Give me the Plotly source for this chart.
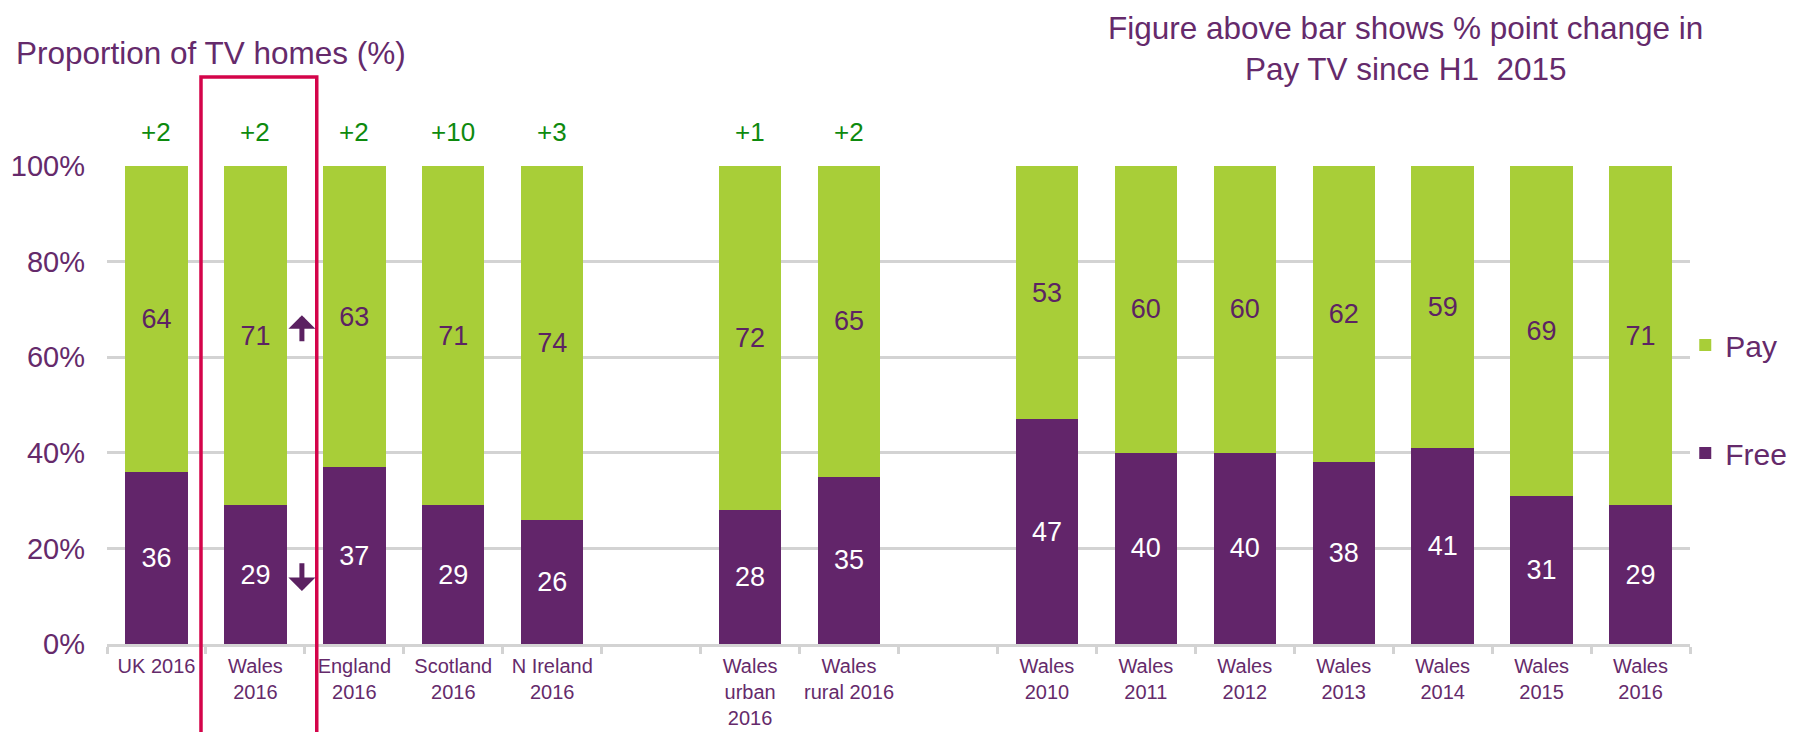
import plotly.graph_objects as go

# ---- data ----
labels = ["UK 2016", "Wales<br>2016", "England<br>2016", "Scotland<br>2016", "N Ireland<br>2016",
          "Wales<br>urban<br>2016", "Wales<br>rural 2016",
          "Wales<br>2010", "Wales<br>2011", "Wales<br>2012", "Wales<br>2013", "Wales<br>2014",
          "Wales<br>2015", "Wales<br>2016"]
free = [36, 29, 37, 29, 26, 28, 35, 47, 40, 40, 38, 41, 31, 29]
pay = [64, 71, 63, 71, 74, 72, 65, 53, 60, 60, 62, 59, 69, 71]
change = ["+2", "+2", "+2", "+10", "+3", "+1", "+2", None, None, None, None, None, None, None]
group_sizes = [5, 2, 7]
y_ticks = [0, 20, 40, 60, 80, 100]
y_ticktext = ["0%", "20%", "40%", "60%", "80%", "100%"]
highlight_index = 1  # Wales 2016 (highlighted)

# ---- layout helpers: slot positions with one empty slot between groups ----
positions = []
slot = 0
for g in group_sizes:
    for _ in range(g):
        positions.append(slot)
        slot += 1
    slot += 1
n_slots = slot - 1
boundaries = [i - 0.5 for i in range(n_slots + 1)]

PURPLE = "#62256A"
GREEN = "#A8CE38"
TEXT = "#652A6B"
CHG = "#0E8A0E"
GRID = "#D3D3D3"
FONT = "Liberation Sans, Arial, sans-serif"

fig = go.Figure()
fig.add_trace(go.Bar(
    x=positions, y=free, name="Free", marker=dict(color=PURPLE, line=dict(width=0)),
    text=free, textposition="inside", insidetextanchor="middle", textangle=0,
    constraintext="none", textfont=dict(color="white", size=27, family=FONT),
    legendgroup="free", legendrank=2, hoverinfo="skip"))
fig.add_trace(go.Bar(
    x=positions, y=pay, name="Pay", marker=dict(color=GREEN, line=dict(width=0)),
    text=pay, textposition="inside", insidetextanchor="middle", textangle=0,
    constraintext="none", textfont=dict(color="#5C2363", size=27, family=FONT),
    legendgroup="pay", legendrank=1, hoverinfo="skip"))

annotations = []
for p, c, f, pv in zip(positions, change, free, pay):
    if c is not None:
        annotations.append(dict(x=p, y=f + pv, xref="x", yref="y", text=c, showarrow=False,
                                yanchor="middle", yshift=34,
                                font=dict(color=CHG, size=26, family=FONT)))

hp = positions[highlight_index]
# up / down arrows beside highlighted bar
annotations.append(dict(x=hp + 0.47, y=68.8, ax=hp + 0.47, ay=63.0, xref="x", yref="y",
                        axref="x", ayref="y", text="", showarrow=True, arrowhead=1,
                        arrowsize=0.9, arrowwidth=5, arrowcolor="#5B2161"))
annotations.append(dict(x=hp + 0.47, y=11.1, ax=hp + 0.47, ay=17.2, xref="x", yref="y",
                        axref="x", ayref="y", text="", showarrow=True, arrowhead=1,
                        arrowsize=0.9, arrowwidth=5, arrowcolor="#5B2161"))

annotations.append(dict(x=-0.059, y=1.236, xref="paper", yref="paper", xanchor="left",
                        yanchor="middle", showarrow=False, text="Proportion of TV homes (%)",
                        font=dict(color=TEXT, size=31.5, family=FONT)))
annotations.append(dict(x=0.82, y=1.245, xref="paper", yref="paper", xanchor="center",
                        yanchor="middle", showarrow=False, align="center",
                        text="Figure above bar shows % point change in<br>Pay TV since H1  2015",
                        font=dict(color=TEXT, size=31.5, family=FONT)))

shapes = [dict(type="rect", xref="x", yref="paper", x0=hp - 0.55, x1=hp + 0.62,
               y0=-0.4, y1=1.186, line=dict(color="#D4044A", width=3.5), layer="above")]

fig.update_layout(
    width=1803, height=732, barmode="stack", bargap=0.37,
    margin=dict(l=99, r=121, t=158, b=96, autoexpand=False),
    paper_bgcolor="white", plot_bgcolor="white",
    font=dict(family=FONT, color=TEXT),
    showlegend=True,
    legend=dict(x=0.997, xanchor="left", y=0.68, yanchor="top",
                traceorder="grouped", tracegroupgap=66,
                font=dict(size=30, color=TEXT, family=FONT), bgcolor="rgba(0,0,0,0)"),
    annotations=annotations, shapes=shapes,
    xaxis=dict(range=[-0.5, n_slots - 0.5], tickmode="array", tickvals=positions,
               ticktext=labels, ticks="", showgrid=False, zeroline=False, automargin=False,
               showline=True, linecolor=GRID, linewidth=3, ticklabelstandoff=2,
               tickfont=dict(size=20, color=TEXT, family=FONT),
               minor=dict(tickmode="array", tickvals=boundaries, ticks="outside",
                          ticklen=7, tickwidth=3, tickcolor=GRID, showgrid=False)),
    yaxis=dict(range=[0, 100], tickmode="array", tickvals=y_ticks, ticktext=y_ticktext,
               showgrid=True, gridcolor=GRID, gridwidth=3, zeroline=False, automargin=False,
               ticks="", ticklabelstandoff=21, tickfont=dict(size=29, color=TEXT, family=FONT)),
)

fig.write_html("out.html")
